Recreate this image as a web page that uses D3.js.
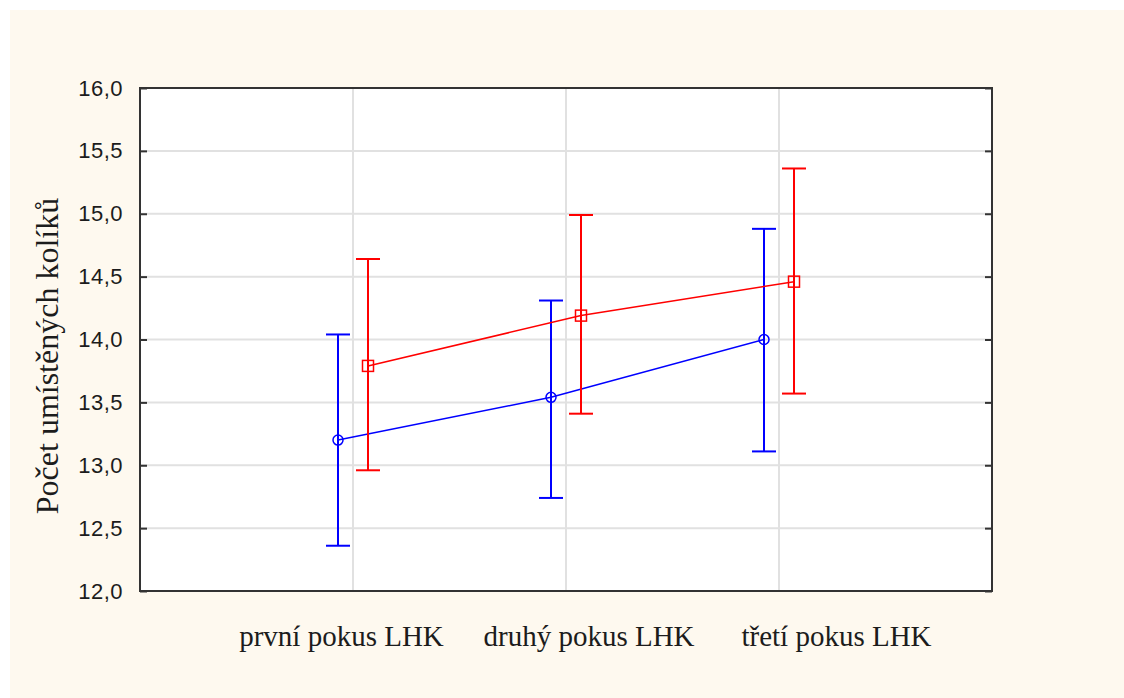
<!DOCTYPE html>
<html>
<head>
<meta charset="utf-8">
<script src="https://cdn.jsdelivr.net/npm/d3@7"></script>
<style>
  body { margin: 0; background: #ffffff; }
  svg { display: block; }
</style>
</head>
<body>
<div id="chart"></div>
<script>
// data
const categories = ["první pokus LHK", "druhý pokus LHK", "třetí pokus LHK"];
const yTicks = [12.0, 12.5, 13.0, 13.5, 14.0, 14.5, 15.0, 15.5, 16.0];

const blueMean  = [13.20, 13.54, 14.00];
const blueUpper = [14.04, 14.31, 14.88];
const blueLower = [12.36, 12.74, 13.11];

const redMean  = [13.79, 14.19, 14.46];
const redUpper = [14.64, 14.99, 15.36];
const redLower = [12.96, 13.41, 13.57];

const width = 1124, height = 698;
const plot = { left: 140, right: 992, top: 88, bottom: 591 };

let svg = d3.select("#chart")
    .append("svg")
    .attr("width", width)
    .attr("height", height);

svg.append("rect")
    .attr("x", 10).attr("y", 10)
    .attr("width", width - 10).attr("height", height - 10)
    .attr("fill", "#fef9ef");

svg.append("rect")
    .attr("x", plot.left).attr("y", plot.top)
    .attr("width", plot.right - plot.left).attr("height", plot.bottom - plot.top)
    .attr("fill", "#ffffff");

let x = d3.scalePoint()
    .domain(categories)
    .range([plot.left, plot.right])
    .padding(1);

// category labels sit on a wider row than the points themselves
let xLabel = d3.scalePoint()
    .domain(categories)
    .range([341.5, 836.5]);

let y = d3.scaleLinear()
    .domain([12, 16])
    .range([plot.bottom, plot.top]);

let fmt = d => d3.format(".1f")(d).replace(".", ",");

// grid
svg.append("g").selectAll("line.h")
    .data(yTicks.slice(1, -1))
    .enter().append("line")
    .attr("x1", plot.left).attr("x2", plot.right)
    .attr("y1", d => y(d)).attr("y2", d => y(d))
    .attr("stroke", "#e1e1e1").attr("stroke-width", 2);

svg.append("g").selectAll("line.v")
    .data(categories)
    .enter().append("line")
    .attr("x1", d => x(d)).attr("x2", d => x(d))
    .attr("y1", plot.top).attr("y2", plot.bottom)
    .attr("stroke", "#e1e1e1").attr("stroke-width", 2);

// axes (inward ticks on both sides)
let leftAxis = d3.axisLeft(y).tickValues(yTicks).tickSize(-7).tickFormat(fmt).tickPadding(17);
let gL = svg.append("g").attr("transform", "translate(" + plot.left + ",0)").call(leftAxis);
gL.select(".domain").remove();
gL.selectAll(".tick line").attr("stroke", "#333").attr("stroke-width", 2);
gL.selectAll(".tick text")
    .attr("font-family", "'Liberation Sans', Arial, sans-serif")
    .attr("font-size", 22)
    .attr("letter-spacing", 0.5)
    .attr("fill", "#1c1c1c");

let rightAxis = d3.axisRight(y).tickValues(yTicks).tickSize(-7).tickFormat("");
let gR = svg.append("g").attr("transform", "translate(" + plot.right + ",0)").call(rightAxis);
gR.select(".domain").remove();
gR.selectAll(".tick line").attr("stroke", "#333").attr("stroke-width", 2);

svg.append("rect")
    .attr("x", plot.left).attr("y", plot.top)
    .attr("width", plot.right - plot.left).attr("height", plot.bottom - plot.top)
    .attr("fill", "none")
    .attr("stroke", "#333")
    .attr("stroke-width", 2);

// category labels
svg.append("g").selectAll("text")
    .data(categories)
    .enter().append("text")
    .attr("x", d => xLabel(d))
    .attr("y", 646)
    .attr("text-anchor", "middle")
    .attr("font-family", "'Liberation Serif', 'Times New Roman', serif")
    .attr("font-size", 29)
    .attr("fill", "#1c1c1c")
    .text(d => d);

// y axis title
svg.append("text")
    .attr("transform", "translate(58,356) rotate(-90)")
    .attr("text-anchor", "middle")
    .attr("font-family", "'Liberation Serif', 'Times New Roman', serif")
    .attr("font-size", 32)
    .attr("fill", "#1c1c1c")
    .text("Počet umístěných kolíků");

function drawSeries(mean, upper, lower, color, offset, marker) {
    let data = categories.map((c, i) => ({ c: c, m: mean[i], hi: upper[i], lo: lower[i] }));
    let g = svg.append("g");
    let px = d => x(d.c) + offset;

    g.append("path")
        .datum(data)
        .attr("fill", "none")
        .attr("stroke", color)
        .attr("stroke-width", 1.5)
        .attr("d", d3.line().x(px).y(d => y(d.m)));

    let bars = g.selectAll("g.err").data(data).enter().append("g");
    bars.append("line")
        .attr("x1", px).attr("x2", px)
        .attr("y1", d => y(d.hi)).attr("y2", d => y(d.lo))
        .attr("stroke", color).attr("stroke-width", 2);
    bars.append("line")
        .attr("x1", d => px(d) - 12).attr("x2", d => px(d) + 12)
        .attr("y1", d => y(d.hi)).attr("y2", d => y(d.hi))
        .attr("stroke", color).attr("stroke-width", 2);
    bars.append("line")
        .attr("x1", d => px(d) - 12).attr("x2", d => px(d) + 12)
        .attr("y1", d => y(d.lo)).attr("y2", d => y(d.lo))
        .attr("stroke", color).attr("stroke-width", 2);

    if (marker === "circle") {
        bars.append("circle")
            .attr("cx", px).attr("cy", d => y(d.m))
            .attr("r", 5)
            .attr("fill", "none")
            .attr("stroke", color).attr("stroke-width", 1.5);
    } else {
        bars.append("rect")
            .attr("x", d => px(d) - 5.5).attr("y", d => y(d.m) - 5.5)
            .attr("width", 11).attr("height", 11)
            .attr("fill", "none")
            .attr("stroke", color).attr("stroke-width", 1.5);
    }
}

drawSeries(blueMean, blueUpper, blueLower, "#0000ff", -15, "circle");
drawSeries(redMean, redUpper, redLower, "#ff0000", 15, "square");
</script>
</body>
</html>
